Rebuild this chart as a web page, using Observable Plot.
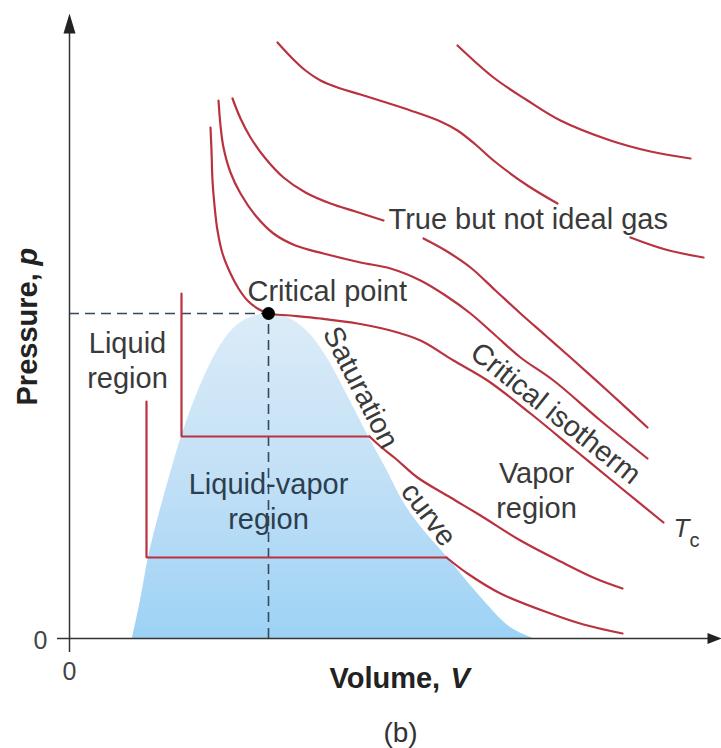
<!DOCTYPE html>
<html>
<head>
<meta charset="utf-8">
<script src="https://cdn.jsdelivr.net/npm/d3@7"></script>
<script src="https://cdn.jsdelivr.net/npm/@observablehq/plot@0.6"></script>
<style>
  body { margin: 0; background: #fff; }
  #chart svg { display: block; }
</style>
</head>
<body>
<div id="chart"></div>
<script>
// ---------- Data (Volume V, Pressure p; arbitrary units) ----------
const isoTopA  = [[20.8,59.6],[22.1,58.2],[23.6,56.8],[25.1,55.8],[27.1,55.0],[29.1,54.4],[34.1,52.8],[37.1,51.7],[38.8,50.8],[40.6,49.4],[42.4,47.8],[45.8,45.3],[48.8,43.5]];
const isoTopB  = [[56.1,40.1],[59.6,38.9],[63.4,38.1]];
const isoHot   = [[38.8,59.3],[42.4,56.1],[45.8,53.8],[49.1,51.8],[54.1,49.8],[58.1,48.7],[62.1,48.0]];
const iso3A    = [[16.3,54.0],[17.1,52.0],[18.1,50.1],[19.6,48.0],[21.4,46.1],[23.6,44.6],[26.1,43.5],[28.6,42.7],[31.4,41.8]];
const iso3B    = [[35.4,40.0],[37.6,38.8],[40.1,37.1],[42.6,34.8],[45.1,32.5],[47.6,30.3],[50.1,28.1],[54.1,24.5],[57.8,21.1]];
const iso4     = [[14.9,53.8],[15.1,51.3],[15.4,49.1],[16.1,46.6],[17.1,44.5],[18.6,42.3],[20.4,40.5],[22.6,39.3],[25.4,38.5],[29.1,37.6],[32.1,37.0],[35.1,35.8],[37.6,34.3],[40.1,32.5],[42.6,30.3],[45.1,28.1],[48.4,25.8],[53.1,21.8],[57.8,18.0]];
const isoCrit  = [[14.1,51.1],[14.2,48.8],[14.3,45.8],[14.5,43.3],[14.8,40.8],[15.3,38.5],[16.1,36.5],[16.9,35.0],[17.8,33.8],[18.8,33.0],[19.9,32.5],[22.1,32.3],[25.1,32.0],[28.8,31.5],[32.1,30.8],[35.1,29.8],[38.4,27.8],[41.8,25.8],[46.1,22.5],[50.6,18.8],[55.1,15.1],[59.4,11.6]];
const iso6Legs = [[11.2,34.5],[11.2,20.2],[30.0,20.2]];
const iso6Tail = [[30.0,20.2],[31.1,19.2],[32.6,18.0],[34.8,16.1],[38.1,14.1],[41.1,12.3],[45.1,9.8],[49.1,7.7],[52.6,6.0],[55.3,5.0]];
const iso7Legs = [[7.7,23.7],[7.7,8.1],[37.7,8.1]];
const iso7Tail = [[37.7,8.1],[39.8,6.5],[43.1,4.5],[48.1,2.5],[51.4,1.4],[55.3,0.5]];
const dome     = [[6.3,0],[7.1,3.8],[7.9,8.1],[8.8,11.8],[9.9,15.8],[11.3,20.5],[13.1,25.3],[14.8,28.8],[16.4,31.0],[18.1,32.1],[19.9,32.5],[21.8,32.1],[23.8,30.7],[25.8,28.0],[28.1,23.7],[29.9,20.2],[31.6,17.1],[33.6,13.3],[35.6,10.6],[37.8,8.1],[40.8,4.5],[44.1,1.1],[46.4,0]];
const criticalPoint = [[19.9,32.5]];
const tickLabels = ["0", "0"];

// ---------- Build tables ----------
const rows = (name, pts) => pts.map(([V, p]) => ({name, V, p}));
const smoothCurves = [
  ...rows("topA", isoTopA), ...rows("topB", isoTopB), ...rows("hot", isoHot),
  ...rows("i3A", iso3A), ...rows("i3B", iso3B), ...rows("i4", iso4),
  ...rows("crit", isoCrit), ...rows("i6", iso6Tail), ...rows("i7", iso7Tail)
];
const straightLegs = [...rows("i6", iso6Legs), ...rows("i7", iso7Legs)];
const domeRows = rows("dome", dome);
const cp = rows("cp", criticalPoint)[0];

const RED = "#b8333f";
const FONT = "Liberation Sans, Arial, Helvetica, sans-serif";
const TXT = "#3a3a3a";

const plainLabels = [
  {text: "Critical point", V: 17.8, p: 33.8},
  {text: "True but not ideal gas", V: 31.9, p: 41.0}
];
const centeredLabels = [
  {text: "Liquid\nregion", V: 5.8, p: 25.1, lh: 1.2, fill: TXT},
  {text: "Vapor\nregion", V: 46.7, p: 12.1, lh: 1.17, fill: TXT},
  {text: "Liquid-vapor\nregion", V: 19.9, p: 11.0, lh: 1.24, fill: "#2c3e50"}
];
const rotatedLabels = [
  {text: "Saturation", V: 29.1, p: 25.1, angle: 63},
  {text: "curve", V: 35.9, p: 12.4, angle: 53},
  {text: "Critical isotherm", V: 48.6, p: 22.5, angle: 38.5}
];

// custom arrowhead symbols
const arrowUp = {draw(ctx) { ctx.moveTo(0, -10); ctx.lineTo(6, 10); ctx.lineTo(-6, 10); ctx.closePath(); }};
const arrowRight = {draw(ctx) { ctx.moveTo(7, 0); ctx.lineTo(-7, 5.5); ctx.lineTo(-7, -5.5); ctx.closePath(); }};

const svg = Plot.plot({
  width: 721,
  height: 748,
  margin: 0,
  style: {fontFamily: FONT, background: "#fff", overflow: "visible"},
  x: {domain: [0, 65.2], range: [69, 721], axis: null},
  y: {domain: [0, 63.8], range: [638, 0], axis: null},
  marks: [
    Plot.areaY(domeRows, {x: "V", y: "p", fill: "url(#domeFill)", curve: "catmull-rom"}),
    // dashed guides to the critical point
    Plot.ruleY([cp], {y: "p", x1: 0, x2: "V", stroke: "#34495e", strokeWidth: 1.6, strokeDasharray: "10,6"}),
    Plot.ruleX([cp], {x: "V", y1: 0, y2: "p", stroke: "#34495e", strokeWidth: 1.6, strokeDasharray: "10,6"}),
    // axes
    Plot.ruleX([0], {y1: -1.4, y2: 61.5, stroke: "#333", strokeWidth: 1.5}),
    Plot.ruleY([0], {x1: -1.2, x2: 64.5, stroke: "#333", strokeWidth: 1.5}),
    Plot.dot([{V: 0, p: 61.5}], {x: "V", y: "p", symbol: arrowUp, fill: "#222", stroke: "none", r: 6}),
    Plot.dot([{V: 64.5, p: 0}], {x: "V", y: "p", symbol: arrowRight, fill: "#222", stroke: "none", r: 6}),
    // isotherms
    Plot.line(straightLegs, {x: "V", y: "p", z: "name", stroke: RED, strokeWidth: 2.2, curve: "linear", strokeLinejoin: "miter"}),
    Plot.line(smoothCurves, {x: "V", y: "p", z: "name", stroke: RED, strokeWidth: 2.2, curve: "catmull-rom"}),
    Plot.dot([cp], {x: "V", y: "p", r: 6.5, fill: "#000", stroke: "none"}),
    // labels
    Plot.text(plainLabels, {x: "V", y: "p", text: "text", textAnchor: "start", lineAnchor: "bottom", fontSize: 29, fill: TXT}),
    Plot.text(centeredLabels, {x: "V", y: "p", text: "text", textAnchor: "middle", lineAnchor: "bottom", fontSize: 29, fill: d => d.fill, lineHeight: 1.2}),
    ...rotatedLabels.map(d => Plot.text([d], {x: "V", y: "p", text: "text", rotate: d.angle, textAnchor: "middle", lineAnchor: "middle", fontSize: 29, fill: TXT})),
    Plot.text([{t: "T", V: 60.4, p: 10.2}], {x: "V", y: "p", text: "t", textAnchor: "start", lineAnchor: "bottom", fontSize: 26, fontStyle: "italic", fill: TXT}),
    Plot.text([{t: "C", V: 62.0, p: 9.2}], {x: "V", y: "p", text: d => "c", textAnchor: "start", lineAnchor: "bottom", fontSize: 20, fill: TXT}),
    // tick labels
    Plot.text([{t: tickLabels[0], V: -2.9, p: -0.2}], {x: "V", y: "p", text: "t", textAnchor: "middle", lineAnchor: "middle", fontSize: 25, fill: "#444"}),
    Plot.text([{t: tickLabels[1], V: 0, p: -3.3}], {x: "V", y: "p", text: "t", textAnchor: "middle", lineAnchor: "middle", fontSize: 25, fill: "#444"}),
    // axis titles
    Plot.text([{t: "Volume, ", V: 26.0, p: -4.9}], {x: "V", y: "p", text: "t", textAnchor: "start", lineAnchor: "bottom", fontSize: 29, fontWeight: "bold", fill: "#222"}),
    Plot.text([{t: "V", V: 38.1, p: -4.9}], {x: "V", y: "p", text: "t", textAnchor: "start", lineAnchor: "bottom", fontSize: 29, fontWeight: "bold", fontStyle: "italic", fill: "#222"}),
    Plot.text([{t: "Pressure, ", V: -4.2, p: 23.3}], {x: "V", y: "p", text: "t", rotate: -90, textAnchor: "start", lineAnchor: "middle", fontSize: 29, fontWeight: "bold", fill: "#222"}),
    Plot.text([{t: "p", V: -4.2, p: 37.3}], {x: "V", y: "p", text: "t", rotate: -90, textAnchor: "start", lineAnchor: "middle", fontSize: 29, fontWeight: "bold", fontStyle: "italic", fill: "#222"}),
    Plot.text([{t: "(b)", V: 33.1, p: -10.3}], {x: "V", y: "p", text: "t", textAnchor: "middle", lineAnchor: "bottom", fontSize: 28, fill: "#333"})
  ]
});

d3.select(svg).insert("defs", ":first-child").html(
  '<linearGradient id="domeFill" x1="0" y1="0" x2="0" y2="1">' +
  '<stop offset="0" stop-color="#dcecf8"/><stop offset="0.5" stop-color="#c2e0f6"/><stop offset="1" stop-color="#9dd2f5"/>' +
  '</linearGradient>'
);

document.getElementById("chart").append(svg);
</script>
</body>
</html>
